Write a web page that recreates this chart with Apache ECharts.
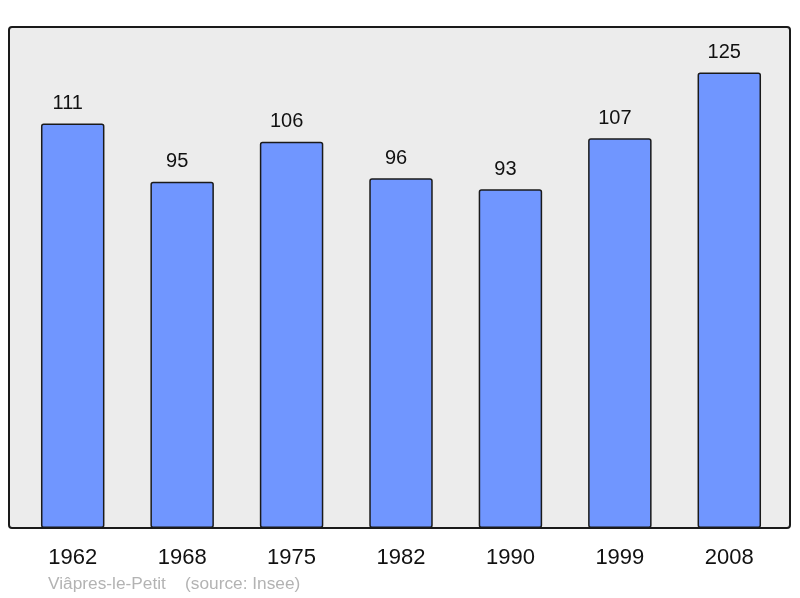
<!DOCTYPE html>
<html><head><meta charset="utf-8">
<script src="https://cdn.jsdelivr.net/npm/echarts@6/dist/echarts.min.js"></script>
<style>html,body{margin:0;padding:0;background:#fff}#c{width:800px;height:598px}</style>
</head><body><div id="c"></div>
<script>
const categories = ['1962','1968','1975','1982','1990','1999','2008'];
const population = [111, 95, 106, 96, 93, 107, 125];
const footer = 'Viâpres-le-Petit    (source: Insee)';

const chart = echarts.init(document.getElementById('c'), null, {renderer:'canvas'});
chart.setOption({
  animation:false,
  backgroundColor:'#ffffff',
  textStyle:{fontFamily:'Liberation Sans, Arial, sans-serif'},
  graphic:[
    {type:'rect', z:-10, shape:{x:9,y:27,width:781,height:501,r:3},
     style:{fill:'#ececec', stroke:'#1a1a1a', lineWidth:2}},
    {type:'text', left:48, top:576, style:{text:footer, fill:'#b3b3b3', font:'17.3px "Liberation Sans", Arial, sans-serif'}}
  ],
  grid:{left:18, right:16, top:27, bottom:70},
  xAxis:{type:'category', data:categories,
    axisLine:{show:false}, axisTick:{show:false},
    axisLabel:{color:'#111', fontSize:22, margin:19, fontFamily:'Liberation Sans, Arial, sans-serif'}},
  yAxis:{type:'value', min:0, max:137.5, show:false, splitLine:{show:false}},
  series:[{type:'bar', data:population, barWidth:'58%',
    itemStyle:{color:'#7096ff', borderColor:'#1a1a1a', borderWidth:1.5, borderRadius:2},
    label:{show:true, position:'top', distance:10, offset:[-5,0], color:'#111', fontSize:20, fontFamily:'Liberation Sans, Arial, sans-serif'}}]
});
</script></body></html>
